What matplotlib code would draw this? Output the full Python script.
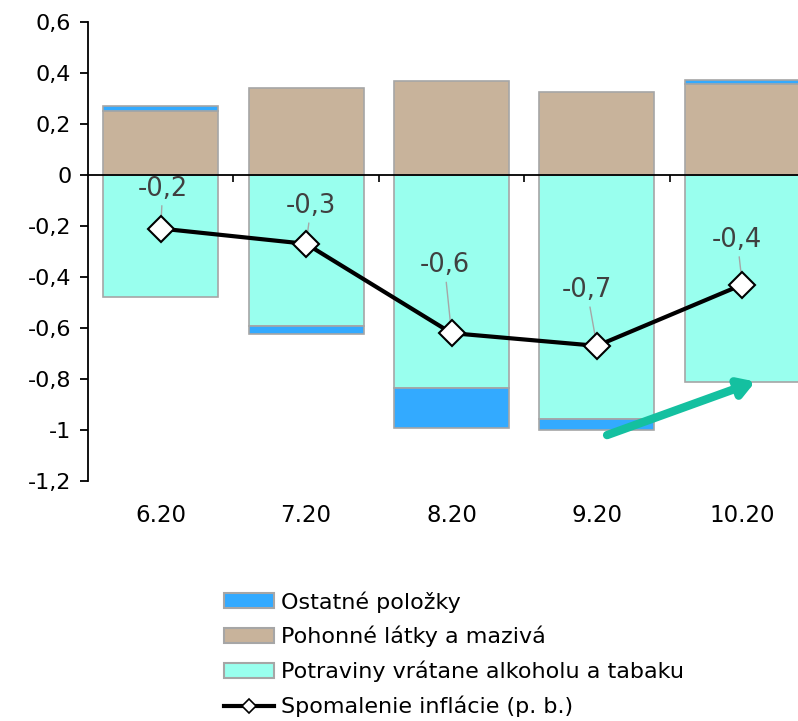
import matplotlib.pyplot as plt
from matplotlib.patches import Patch
from matplotlib.lines import Line2D
from matplotlib.ticker import FuncFormatter

plt.rcParams['font.family'] = ['DejaVu Sans']
plt.rcParams['axes.unicode_minus'] = False

# príspevky k spomaleniu inflácie (p. b.)
months = ['6.20', '7.20', '8.20', '9.20', '10.20']
ostatne = [0.02, -0.03, -0.157, -0.043, 0.015]
pohonne = [0.25, 0.34, 0.37, 0.326, 0.358]
potraviny = [-0.48, -0.592, -0.835, -0.957, -0.81]
spomalenie = [-0.21, -0.27, -0.62, -0.67, -0.43]

# posuny stredov popisiek voči bodom (px)
label_offsets = [(2, 40), (5, 38), (-7, 68), (-10, 56), (-5, 45)]

c_blue = '#33aaff'
c_brown = '#c8b39b'
c_cyan = '#99ffee'
c_edge = '#a6a6a6'
c_arrow = '#14c0a0'

fig = plt.figure(figsize=(7.98, 7.21), dpi=100)
ax = fig.add_axes([88 / 798, 1 - 481 / 721, 727 / 798, 459 / 721])

x = list(range(len(months)))
w = 0.79
bar_kw = dict(width=w, edgecolor=c_edge, linewidth=1.2, zorder=2)

ax.bar(x, pohonne, color=c_brown, **bar_kw)
ax.bar(x, potraviny, color=c_cyan, **bar_kw)
# ostatné položky sa ukladajú na kladnú alebo zápornú časť stĺpca
bottoms = [p if o >= 0 else f for o, p, f in zip(ostatne, pohonne, potraviny)]
ax.bar(x, ostatne, bottom=bottoms, color=c_blue, **bar_kw)

ax.plot(x, spomalenie, color='black', lw=3, marker='D', ms=13,
        mfc='white', mec='black', mew=1.5, zorder=5)

for xi, v, off in zip(x, spomalenie, label_offsets):
    ax.annotate(f'{v:.1f}'.replace('.', ','), xy=(xi, v), xytext=off,
                textcoords='offset pixels', ha='center', va='center',
                fontsize=18.5, color='#404040', zorder=4,
                arrowprops=dict(arrowstyle='-', color=c_edge, lw=1,
                                shrinkA=1, shrinkB=0))

ax.annotate('', xy=(4.09, -0.81), xytext=(3.07, -1.02),
            arrowprops=dict(arrowstyle='-|>,head_length=0.9,head_width=0.55',
                            color=c_arrow, lw=6, shrinkA=0, shrinkB=0),
            zorder=6)

ax.set_xlim(-0.5, 4.5)
ax.set_ylim(-1.2, 0.6)
ax.set_yticks([0.6, 0.4, 0.2, 0, -0.2, -0.4, -0.6, -0.8, -1, -1.2])
ax.yaxis.set_major_formatter(FuncFormatter(lambda v, p: f'{v:g}'.replace('.', ',')))
ax.tick_params(axis='y', labelsize=16, length=6, width=1.3, pad=6)

# os x leží na nule: hlavné dieliky medzi kategóriami, popisky ako vedľajšie dieliky
ax.spines['bottom'].set_position(('data', 0))
ax.spines['bottom'].set_linewidth(1.3)
ax.set_xticks([0.5, 1.5, 2.5, 3.5])
ax.set_xticklabels([])
ax.set_xticks(x, minor=True)
ax.set_xticklabels(months, minor=True)
ax.tick_params(axis='x', which='major', length=5, width=1.2, direction='out')
ax.tick_params(axis='x', which='minor', length=0, labelsize=16.5, pad=237)

for s in ['top', 'right']:
    ax.spines[s].set_visible(False)
ax.spines['left'].set_linewidth(1.3)

handles = [
    Patch(facecolor=c_blue, edgecolor=c_edge, linewidth=1.5),
    Patch(facecolor=c_brown, edgecolor=c_edge, linewidth=1.5),
    Patch(facecolor=c_cyan, edgecolor=c_edge, linewidth=1.5),
    Line2D([], [], color='black', lw=3, marker='D', ms=7,
           mfc='white', mec='black', mew=1.2),
]
labels = ['Ostatné položky', 'Pohonné látky a mazivá',
          'Potraviny vrátane alkoholu a tabaku', 'Spomalenie inflácie (p. b.)']
fig.legend(handles, labels, loc='upper left', bbox_to_anchor=(213 / 798, 1 - 580 / 721),
           frameon=False, fontsize=16, borderpad=0, handlelength=2.25,
           handleheight=0.65, handletextpad=0.3, labelspacing=0.6)

fig.savefig('out.png', dpi=100)
